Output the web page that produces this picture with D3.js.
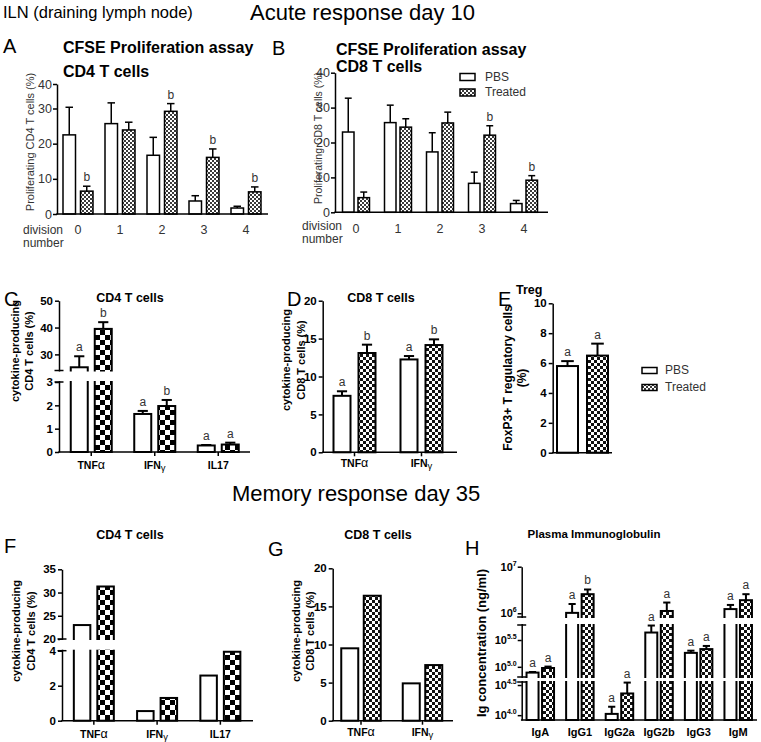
<!DOCTYPE html>
<html><head><meta charset="utf-8">
<script src="https://cdn.jsdelivr.net/npm/d3@7"></script>
<style>body{margin:0;background:#fff}svg{display:block}text{font-family:"Liberation Sans",Arial,sans-serif}</style>
</head><body><svg id="c" width="761" height="742"></svg>
<script>
// ---------- DATA ----------
const divisions = ["0","1","2","3","4"];
const cd4ProlifPBS = [22.5, 25.7, 16.7, 3.7, 1.7];
const cd4ProlifPBSSem = [8.0, 6.6, 5.1, 1.5, 0.5];
const cd4ProlifTrt = [6.5, 23.9, 29.2, 16.1, 6.3];
const cd4ProlifTrtSem = [1.4, 2.2, 2.8, 2.4, 1.4];
const cd4ProlifTrtLab = ["b","","b","b","b"];
const cd8ProlifPBS = [23.0, 25.7, 17.3, 8.3, 2.5];
const cd8ProlifPBSSem = [9.7, 5.0, 5.5, 3.2, 0.9];
const cd8ProlifTrt = [4.2, 24.4, 25.6, 22.1, 9.2];
const cd8ProlifTrtSem = [1.6, 2.4, 3.1, 2.7, 1.3];
const cd8ProlifTrtLab = ["","","","b","b"];

const cd4Cats = ["TNFα","IFNγ","IL17"];
const cd8Cats = ["TNFα","IFNγ"];
const acuteCd4PBS = [25.2, 1.63, 0.28];
const acuteCd4PBSSem = [4.1, 0.13, 0.02];
const acuteCd4Trt = [39.5, 1.97, 0.32];
const acuteCd4TrtSem = [2.5, 0.26, 0.08];
const acuteCd4PBSLab = ["a","a","a"];
const acuteCd4TrtLab = ["b","b","a"];
const acuteCd8PBS = [7.45, 12.25];
const acuteCd8PBSSem = [0.6, 0.45];
const acuteCd8Trt = [13.1, 14.15];
const acuteCd8TrtSem = [1.1, 0.75];
const acuteCd8PBSLab = ["a","a"];
const acuteCd8TrtLab = ["b","b"];
const tregCats = ["Treg"];
const tregPBS = [5.8], tregPBSSem = [0.33], tregTrt = [6.5], tregTrtSem = [0.8];
const tregPBSLab = ["a"], tregTrtLab = ["a"];

const memCd4PBS = [23.0, 0.55, 2.58];
const memCd4Trt = [31.3, 1.3, 3.94];
const memCd8PBS = [9.5, 4.9];
const memCd8Trt = [16.4, 7.3];

const igCats = ["IgA","IgG1","IgG2a","IgG2b","IgG3","IgM"];
const igPBS = [78000, 1020000, 10500, 436000, 182000, 1230000];       // ng/ml
const igPBSSem = [2000, 560000, 3300, 153000, 18000, 280000];
const igTrt = [95000, 2570000, 22900, 1120000, 214000, 1910000];
const igTrtSem = [6000, 670000, 11800, 580000, 31000, 660000];
const igPBSLab = ["a","a","a","a","a","a"];
const igTrtLab = ["a","b","a","a","a","a"];
const igTickExp = [4, 4.5, 5, 5.5, 6, 7];
const igTickLab = ["4.0","4.5","5.0","5.5","6","7"];

// ---------- DRAWING ----------
const svg = d3.select("#c");
const defs = svg.append("defs");
function checker(id, s, color){
  const p = defs.append("pattern").attr("id",id).attr("patternUnits","userSpaceOnUse")
    .attr("width",2*s).attr("height",2*s);
  p.append("rect").attr("width",2*s).attr("height",2*s).attr("fill","#fff");
  p.append("rect").attr("width",s).attr("height",s).attr("fill",color);
  p.append("rect").attr("x",s).attr("y",s).attr("width",s).attr("height",s).attr("fill",color);
}
checker("chkA",2,"#3a3a3a");
checker("chkF",3,"#111");
checker("chkC",5,"#000");

function txt(t,x,y,size,opts={}){
  return svg.append("text").attr("x",x).attr("y",y).attr("font-size",size)
    .attr("font-weight",opts.w||"normal").attr("fill",opts.fill||"#000")
    .attr("text-anchor",opts.anchor||"start").text(t);
}
function rotText(t,bx,cy,size,w,fill){
  svg.append("text").attr("transform",`translate(${bx},${cy}) rotate(-90)`)
    .attr("text-anchor","middle").attr("font-size",size).attr("font-weight",w||"normal")
    .attr("fill",fill||"#000").text(t);
}
function catLabel(g,t,x,y,size){
  const m = t.match(/^(.*?)([αγ])$/);
  const el = g.append("text").attr("x",x).attr("y",y).attr("text-anchor","middle")
    .attr("font-size",size).attr("font-weight","bold");
  if(m){
    el.append("tspan").text(m[1]);
    if(m[2]==="α") el.append("tspan").attr("font-weight","normal").attr("font-size",size+2).text(m[2]);
    else el.append("tspan").attr("font-weight","normal").attr("font-size",size-1).attr("dy",2).text(m[2]);
  } else el.text(t);
}

function drawPanel(p){
  const g = svg.append("g");
  const tf = p.tf || (v=>v);
  const Y = v => p.y(tf(v));
  const x = d3.scaleBand().domain(p.cats).range(p.xr);
  const base = p.y(p.y.domain()[0]);
  const cen = p.cats.map(c=>x(c)+x.bandwidth()/2);
  const series = [
    {vals:p.pbs, sem:p.pbsSem, lab:p.pbsLab, fill:"#fff", off:-p.gap/2-p.barW},
    {vals:p.trt, sem:p.trtSem, lab:p.trtLab, fill:`url(#${p.pat})`, off:p.gap/2}
  ];
  const capW = p.barW*0.6;
  series.forEach(s=>{
    g.selectAll(null).data(s.vals).join("rect")
      .attr("x",(d,i)=>cen[i]+s.off).attr("y",d=>Y(d))
      .attr("width",p.barW).attr("height",d=>base-Y(d))
      .attr("fill",s.fill).attr("stroke","#000").attr("stroke-width",p.sw);
    if(s.sem){
      const eg = g.selectAll(null).data(s.vals).join("g");
      eg.append("line").attr("x1",(d,i)=>cen[i]+s.off+p.barW/2).attr("x2",(d,i)=>cen[i]+s.off+p.barW/2)
        .attr("y1",d=>Y(d)).attr("y2",(d,i)=>Y(d+s.sem[i])).attr("stroke","#000").attr("stroke-width",p.sw);
      eg.append("line").attr("x1",(d,i)=>cen[i]+s.off+p.barW/2-capW/2).attr("x2",(d,i)=>cen[i]+s.off+p.barW/2+capW/2)
        .attr("y1",(d,i)=>Y(d+s.sem[i])).attr("y2",(d,i)=>Y(d+s.sem[i])).attr("stroke","#000").attr("stroke-width",p.sw);
    }
  });
  // y axis
  const ax = d3.axisLeft(p.y).tickValues(p.yTicks).tickSize(4).tickSizeOuter(0).tickPadding(p.tickPad||2)
    .tickFormat(p.yFmt || d3.format("d"));
  const ag = g.append("g").attr("transform",`translate(${p.ax0},0)`).call(ax);
  ag.select(".domain").attr("stroke-width",p.asw);
  ag.selectAll(".tick line").attr("stroke-width",p.asw);
  ag.selectAll(".tick text").attr("font-size",p.tickSize).attr("font-weight",p.tickW||"bold")
    .attr("fill",p.tickFill||"#000").attr("font-family","Liberation Sans, Arial, sans-serif");
  if(p.supTicks){
    ag.selectAll(".tick text").each(function(d,i){
      const t = d3.select(this); t.text("10");
      t.append("tspan").attr("dy","-0.7em").attr("font-size",7).text(p.supTicks[i]);
    });
  }
  // x axis line
  g.append("line").attr("x1",p.ax0-p.asw/2).attr("x2",p.ax1).attr("y1",base).attr("y2",base)
    .attr("stroke","#000").attr("stroke-width",p.asw);
  if(p.xTicks){
    cen.forEach(c=>g.append("line").attr("x1",c).attr("x2",c).attr("y1",base).attr("y2",base+4)
      .attr("stroke","#000").attr("stroke-width",p.asw));
  }
  // axis breaks
  (p.gaps||[]).forEach(([a,b])=>{
    g.append("rect").attr("x",p.ax0-2).attr("y",a+1).attr("width",p.ax1-p.ax0+3).attr("height",b-a-2).attr("fill","#fff");
    [a,b].forEach(yy=>g.append("line").attr("x1",p.ax0-4.5).attr("x2",p.ax0+4.5).attr("y1",yy).attr("y2",yy)
      .attr("stroke","#000").attr("stroke-width",p.asw));
  });
  // annotations
  series.forEach(s=>{
    if(!s.lab) return;
    s.vals.forEach((v,i)=>{
      if(!s.lab[i]) return;
      const top = s.sem ? v+s.sem[i] : v;
      g.append("text").attr("x",cen[i]+s.off+p.barW/2).attr("y",Y(top)-5).attr("text-anchor","middle")
        .attr("font-size",12).attr("fill","#333").text(s.lab[i]);
    });
  });
  // category labels
  if(p.catY){
    p.cats.forEach((c,i)=>{
      if(p.catPlain) g.append("text").attr("x",cen[i]).attr("y",p.catY).attr("text-anchor","middle")
        .attr("font-size",p.catSize).attr("fill",p.catFill||"#000").attr("font-weight",p.catW||"bold").text(c);
      else catLabel(g,c,cen[i],p.catY,p.catSize);
    });
  }
}

// ---------- HEADERS ----------
txt("ILN (draining lymph node)",3,18,16.5);
txt("Acute response day 10",250,20,22);
txt("Memory response day 35",232,501,22);

// ---------- A ----------
txt("A",3,53,20);
txt("CFSE Proliferation assay",63,53,16,{w:"bold"});
txt("CD4 T cells",63,77,16,{w:"bold"});
rotText("Proliferating CD4 T cells (%)",34,142,11,"normal","#333");
drawPanel({cats:divisions, pbs:cd4ProlifPBS, pbsSem:cd4ProlifPBSSem, trt:cd4ProlifTrt, trtSem:cd4ProlifTrtSem,
  trtLab:cd4ProlifTrtLab, y:d3.scaleLinear().domain([0,30,40]).range([214,108.5,84]), yTicks:[0,10,20,30,40],
  xr:[57,267], ax0:57, ax1:268, barW:12.5, gap:5, sw:1.5, asw:1.5, pat:"chkA",
  tickSize:12.5, tickW:"normal", tickFill:"#333", tickPad:1, catY:234, catSize:12.5, catPlain:true, catW:"normal", catFill:"#333"});
txt("division",23,234,12,{fill:"#333"});
txt("number",23,247,12,{fill:"#333"});

// ---------- B ----------
txt("B",272,55,20);
txt("CFSE Proliferation assay",336,55,16,{w:"bold"});
txt("CD8 T cells",336,72,16,{w:"bold"});
rotText("Proliferating CD8 T cells (%)",322,138,10.5,"normal","#333");
drawPanel({cats:divisions, pbs:cd8ProlifPBS, pbsSem:cd8ProlifPBSSem, trt:cd8ProlifTrt, trtSem:cd8ProlifTrtSem,
  trtLab:cd8ProlifTrtLab, y:d3.scaleLinear().domain([0,40]).range([212.3,72.7]), yTicks:[0,10,20,30,40],
  xr:[335,545], ax0:335, ax1:548, barW:11.5, gap:4, sw:1.5, asw:1.5, pat:"chkA",
  tickSize:12.5, tickW:"normal", tickFill:"#333", tickPad:1, catY:233, catSize:12.5, catPlain:true, catW:"normal", catFill:"#333"});
txt("division",302,230,12,{fill:"#333"});
txt("number",302,243,12,{fill:"#333"});
// legend B
svg.append("rect").attr("x",460).attr("y",73.5).attr("width",15).attr("height",7).attr("fill","#fff").attr("stroke","#000").attr("stroke-width",1.5);
svg.append("rect").attr("x",460).attr("y",89).attr("width",15).attr("height",7).attr("fill","url(#chkA)").attr("stroke","#000").attr("stroke-width",1.5);
txt("PBS",485,81,12,{fill:"#333"});
txt("Treated",485,96,12,{fill:"#333"});

// ---------- C ----------
txt("C",4,306,20);
txt("CD4 T cells",130,302,12.5,{w:"bold",anchor:"middle"});
rotText("cytokine-producing",19,351,11,"bold");
rotText("CD4 T cells (%)",33,351,11,"bold");
drawPanel({cats:cd4Cats, pbs:acuteCd4PBS, pbsSem:acuteCd4PBSSem, trt:acuteCd4Trt, trtSem:acuteCd4TrtSem,
  pbsLab:acuteCd4PBSLab, trtLab:acuteCd4TrtLab,
  y:d3.scaleLinear().domain([0,3,24,50]).range([452,382,370.5,300.7]), yTicks:[0,1,2,3,30,40,50], gaps:[[370.5,382]],
  xr:[59.5,250], ax0:59, ax1:250, barW:17, gap:7, sw:2, asw:1.5, pat:"chkC", xTicks:true,
  tickSize:11.5, catY:469, catSize:10.5});

// ---------- D ----------
txt("D",287,306,20);
txt("CD8 T cells",381,302,12.5,{w:"bold",anchor:"middle"});
rotText("cytokine-producing",290,360,11,"bold");
rotText("CD8 T cells (%)",305,360,11,"bold");
drawPanel({cats:cd8Cats, pbs:acuteCd8PBS, pbsSem:acuteCd8PBSSem, trt:acuteCd8Trt, trtSem:acuteCd8TrtSem,
  pbsLab:acuteCd8PBSLab, trtLab:acuteCd8TrtLab,
  y:d3.scaleLinear().domain([0,20]).range([452.3,300.7]), yTicks:[0,5,10,15,20],
  xr:[321,455], ax0:322.7, ax1:457, barW:17, gap:8, sw:2, asw:1.5, pat:"chkF", xTicks:true,
  tickSize:11.5, catY:467, catSize:10.5});

// ---------- E ----------
txt("E",498,306,20);
txt("Treg",516,294,12.5,{w:"bold"});
rotText("FoxP3+ T regulatory cells",512,378,12,"bold");
rotText("(%)",526,378,12,"bold");
drawPanel({cats:tregCats, pbs:tregPBS, pbsSem:tregPBSSem, trt:tregTrt, trtSem:tregTrtSem,
  pbsLab:tregPBSLab, trtLab:tregTrtLab,
  y:d3.scaleLinear().domain([0,10]).range([452.7,303.3]), yTicks:[0,2,4,6,8,10],
  xr:[552.7,612.3], ax0:552.7, ax1:612, barW:21, gap:9, sw:2, asw:1.5, pat:"chkF",
  tickSize:11.5});
// legend E
svg.append("rect").attr("x",642).attr("y",367.5).attr("width",15).attr("height",6).attr("fill","#fff").attr("stroke","#000").attr("stroke-width",1.5);
svg.append("rect").attr("x",642).attr("y",384.5).attr("width",15).attr("height",6).attr("fill","url(#chkA)").attr("stroke","#000").attr("stroke-width",1.5);
txt("PBS",665,374,12,{fill:"#333"});
txt("Treated",665,391,12,{fill:"#333"});

// ---------- F ----------
txt("F",4,553,20);
txt("CD4 T cells",130,539,12.5,{w:"bold",anchor:"middle"});
rotText("cytokine-producing",20,631,11,"bold");
rotText("CD4 T cells (%)",35,631,11,"bold");
drawPanel({cats:cd4Cats, pbs:memCd4PBS, trt:memCd4Trt,
  y:d3.scaleLinear().domain([0,4,20,35]).range([720.7,650.7,639,569.3]), yTicks:[0,2,4,20,25,30,35], gaps:[[639,650.7]],
  xr:[62.2,252], ax0:62, ax1:253, barW:16.5, gap:7, sw:2, asw:1.5, pat:"chkC", xTicks:true,
  tickSize:11.5, catY:737.5, catSize:10.5});

// ---------- G ----------
txt("G",268,556,20);
txt("CD8 T cells",378,539,12.5,{w:"bold",anchor:"middle"});
rotText("cytokine-producing",300,631,11,"bold");
rotText("CD8 T cells (%)",314,631,11,"bold");
drawPanel({cats:cd8Cats, pbs:memCd8PBS, trt:memCd8Trt,
  y:d3.scaleLinear().domain([0,20]).range([720.7,568.3]), yTicks:[0,5,10,15,20],
  xr:[330.25,453.25], ax0:332.7, ax1:453, barW:17, gap:5.5, sw:2, asw:1.5, pat:"chkF", xTicks:true,
  tickSize:11.5, catY:736, catSize:10.5});

// ---------- H ----------
txt("H",465,555,20);
txt("Plasma Immunoglobulin",594,538,11.5,{w:"bold",anchor:"middle"});
rotText("Ig concentration (ng/ml)",486,643,13,"bold");
drawPanel({cats:igCats, pbs:igPBS, pbsSem:igPBSSem, trt:igTrt, trtSem:igTrtSem,
  pbsLab:igPBSLab, trtLab:igTrtLab, tf:Math.log10,
  y:d3.scaleLinear().domain([3.92,4.55,4.81,5.78,5.92,7]).range([720,682,677,625,617,566.7]),
  yTicks:igTickExp, supTicks:igTickLab, gaps:[[677,682],[617,625]],
  xr:[520.5,758], ax0:521.7, ax1:757, barW:12, gap:3.5, sw:2, asw:1.5, pat:"chkF",
  tickSize:11, tickPad:1, catY:736, catSize:11, catPlain:true});
</script></body></html>
